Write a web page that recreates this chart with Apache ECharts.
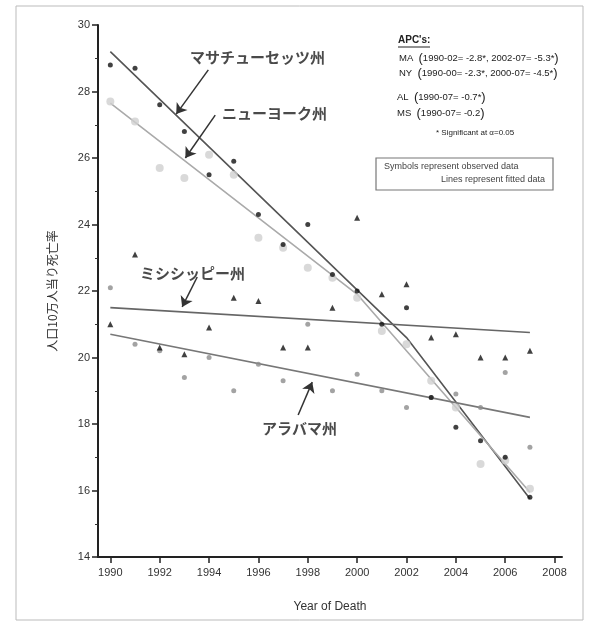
<!DOCTYPE html>
<html><head><meta charset="utf-8">
<script src="https://cdn.jsdelivr.net/npm/echarts@6/dist/echarts.min.js"></script>
<style>html,body{margin:0;padding:0;background:#fff}#c{width:597px;height:625px}</style>
</head><body><div id="c"></div>
<script>
const years = [1990,1991,1992,1993,1994,1995,1996,1997,1998,1999,2000,2001,2002,2003,2004,2005,2006,2007];
const maObserved = [28.8,28.7,27.6,26.8,25.5,25.9,24.3,23.4,24.0,22.5,22.0,21.0,21.5,18.8,17.9,17.5,17.0,15.8];
const nyObserved = [27.7,27.1,25.7,25.4,26.1,25.5,23.6,23.3,22.7,22.4,21.8,20.8,20.4,19.3,18.5,16.8,16.9,16.05];
const msObserved = [21.0,23.1,20.3,20.1,20.9,21.8,21.7,20.3,20.3,21.5,24.2,21.9,22.2,20.6,20.7,20.0,20.0,20.2];
const alObserved = [22.1,20.4,20.2,19.4,20.0,19.0,19.8,19.3,21.0,19.0,19.5,19.0,18.5,18.8,18.9,18.5,19.55,17.3];

const maFitX = [1990, 2002, 2007], maFitY = [29.2, 20.6, 15.75];
const nyFitX = [1990, 2000, 2007], nyFitY = [27.65, 21.9, 15.95];
const msFitX = [1990, 2007], msFitY = [21.5, 20.75];
const alFitX = [1990, 2007], alFitY = [20.7, 18.2];

const xTickValues = [1990,1992,1994,1996,1998,2000,2002,2004,2006,2008];
const yTicks = {min: 14, max: 30, interval: 2};

// label arrows: tail -> head (data coords)
const arrowTails = [[1993.97, 28.65],[1994.25, 27.29],[1993.52, 22.42],[1997.61, 18.27]];
const arrowHeads = [[1992.67, 27.32],[1993.04, 26.0],[1992.91, 21.52],[1998.18, 19.26]];
const stateLabels = ['マサチューセッツ州','ニューヨーク州','ミシシッピー州','アラバマ州'];

const zip = (xs, ys) => xs.map((x, i) => [x, ys[i]]);
const chart = echarts.init(document.getElementById('c'));
const FONT = '"Liberation Sans", Arial, sans-serif';
const JP = '"Noto Sans CJK JP", sans-serif';

function fitLine(xs, ys, color) {
  return {type:'line', data: zip(xs, ys), symbol:'none', lineStyle:{color, width:1.6}, z:2, silent:true};
}
function scatter(ys, symbol, size, color, z) {
  return {type:'scatter', data: zip(years, ys), symbol, symbolSize:size, itemStyle:{color}, z, silent:true};
}

const labelPos = [[190,57],[222,113],[140,273],[262,428]];

chart.setOption({
  animation:false,
  grid:{left:98, right:35, top:25, bottom:68},
  xAxis:{type:'value', min:1989.5, max:2008.3,
    name:'Year of Death', nameLocation:'middle', nameGap:44,
    nameTextStyle:{fontFamily:FONT, fontSize:12, color:'#333'},
    axisLine:{lineStyle:{color:'#222', width:2}},
    axisTick:{show:true, inside:false, length:6, customValues:xTickValues, lineStyle:{color:'#222', width:1.5}},
    axisLabel:{customValues:xTickValues, formatter:v=>String(v), fontFamily:FONT, fontSize:11, color:'#333', margin:10},
    splitLine:{show:false}},
  yAxis:{type:'value', min:yTicks.min, max:yTicks.max, interval:yTicks.interval,
    name:'人口10万人当り死亡率', nameLocation:'middle', nameGap:40, nameRotate:90,
    nameTextStyle:{fontFamily:JP, fontSize:12, color:'#333'},
    axisLine:{show:true, lineStyle:{color:'#222', width:2}},
    axisTick:{show:true, length:6, lineStyle:{color:'#222', width:1.5}},
    minorTick:{show:true, splitNumber:2, length:3, lineStyle:{color:'#333'}},
    axisLabel:{fontFamily:FONT, fontSize:11, color:'#333', margin:8},
    splitLine:{show:false}},
  series:[
    fitLine(maFitX, maFitY, '#555'),
    fitLine(nyFitX, nyFitY, '#aaa'),
    fitLine(msFitX, msFitY, '#666'),
    fitLine(alFitX, alFitY, '#777'),
    scatter(nyObserved, 'circle', 8, '#cfcfcf', 3),
    scatter(alObserved, 'circle', 5, '#8c8c8c', 4),
    scatter(msObserved, 'triangle', 6, '#111', 5),
    scatter(maObserved, 'circle', 5, '#111', 6),
    {type:'scatter', data:[], z:7, silent:true,
      markLine:{silent:true, animation:false, symbol:['none','arrow'], symbolSize:10,
        label:{show:false}, lineStyle:{color:'#333', width:1.5, type:'solid'},
        itemStyle:{color:'#111'},
        data: arrowTails.map((t,i)=>[{coord:t}, {coord:arrowHeads[i]}])}}
  ],
  graphic:[
    {type:'rect', shape:{x:16, y:6, width:567, height:614}, style:{fill:null, stroke:'#bbb', lineWidth:1}, silent:true},
    ...stateLabels.map((s,i)=>({type:'text', x:labelPos[i][0], y:labelPos[i][1],
      style:{text:s, font:'bold 15px '+JP, fill:'#4a4a4a', textVerticalAlign:'middle'}})),
    {type:'text', x:398, y:40, style:{text:"APC's:", font:'bold 10px '+FONT, fill:'#222', textVerticalAlign:'middle'}},
    {type:'line', shape:{x1:398, y1:47, x2:430, y2:47}, style:{stroke:'#222', lineWidth:1}},
    {type:'text', x:399, y:58, style:{text:'MA  {p|(}1990-02= -2.8*, 2002-07= -5.3*{p|)}', font:'9.5px '+FONT, fill:'#222', textVerticalAlign:'middle', rich:{p:{fontSize:13, fontFamily:FONT}}}},
    {type:'text', x:399, y:73, style:{text:'NY  {p|(}1990-00= -2.3*, 2000-07= -4.5*{p|)}', font:'9.5px '+FONT, fill:'#222', textVerticalAlign:'middle', rich:{p:{fontSize:13, fontFamily:FONT}}}},
    {type:'text', x:397, y:97, style:{text:'AL  {p|(}1990-07= -0.7*{p|)}', font:'9.5px '+FONT, fill:'#222', textVerticalAlign:'middle', rich:{p:{fontSize:13, fontFamily:FONT}}}},
    {type:'text', x:397, y:113, style:{text:'MS  {p|(}1990-07= -0.2{p|)}', font:'9.5px '+FONT, fill:'#222', textVerticalAlign:'middle', rich:{p:{fontSize:13, fontFamily:FONT}}}},
    {type:'text', x:436, y:133, style:{text:'* Significant at α=0.05', font:'8px '+FONT, fill:'#222', textVerticalAlign:'middle'}},
    {type:'rect', shape:{x:376, y:158, width:177, height:32}, style:{fill:'#fff', stroke:'#777', lineWidth:1.2}},
    {type:'text', x:384, y:167, style:{text:'Symbols represent observed data', font:'9px '+FONT, fill:'#444', textVerticalAlign:'middle'}},
    {type:'text', x:545, y:180, style:{text:'Lines represent fitted data', font:'9px '+FONT, fill:'#444', textVerticalAlign:'middle', textAlign:'right'}}
  ]
});
</script></body></html>
